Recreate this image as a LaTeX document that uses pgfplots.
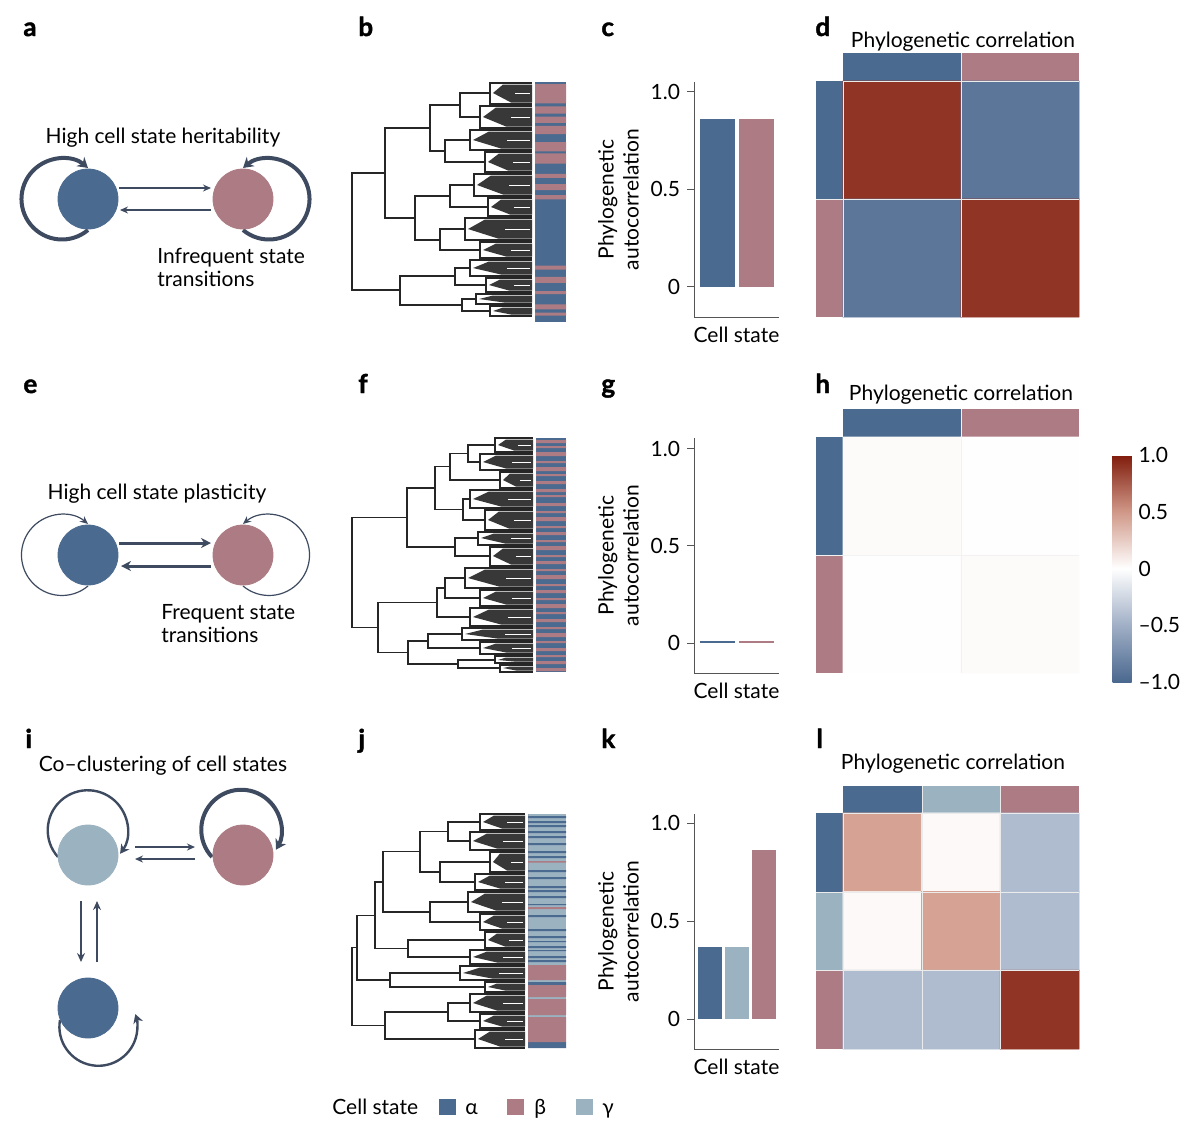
\documentclass[border=0pt]{standalone}
\usepackage{fontspec}
\setmainfont{Lato}
\newfontfamily\plfont{Lato}[FakeBold=1.6]
\usepackage{pgfplots}
\pgfplotsset{compat=1.18}
\usetikzlibrary{arrows.meta}

\definecolor{cA}{RGB}{75,106,143}
\definecolor{cB}{RGB}{172,123,132}
\definecolor{cG}{RGB}{155,178,192}
\definecolor{cArr}{RGB}{61,74,96}
\definecolor{axc}{RGB}{85,85,85}

\newcommand{\lab}{\fontsize{10.5}{12.5}\selectfont}
\newcommand{\pl}{\plfont\bfseries\fontsize{13}{13}\selectfont}

\pgfplotsset{
  colormap={rb}{rgb255(0cm)=(74,104,142) rgb255(1cm)=(160,175,198) rgb255(2cm)=(255,255,255) rgb255(3cm)=(208,152,136) rgb255(4cm)=(128,28,12)},
  barax/.style={scale only axis, width=42.5pt, height=117.5pt, xmin=0, xmax=85,
    axis x line=bottom, axis y line=left,
    axis line style={-, draw=axc, line width=0.5pt},
    xtick=\empty, ytick={0,0.5,1}, yticklabels={0,0.5,1.0},
    tick style={draw=axc, line width=0.5pt}, major tick length=3.5pt, tick align=outside,
    ticklabel style={font=\lab}, label style={font=\lab},
    xlabel={Cell state}, ylabel={Phylogenetic\\autocorrelation},
    ylabel style={align=center}, ylabel shift=-1pt, xlabel shift=-2pt, clip=false},
  strip/.style={scale only axis, xmin=0, xmax=1, y dir=reverse, hide axis, anchor=north west},
}

\begin{document}
\begin{tikzpicture}
\useasboundingbox (0pt,0pt) rectangle (600pt,-564.5pt);

% ---------- big canvas axis in pixel units ----------
\begin{axis}[at={(0pt,0pt)}, anchor=north west, scale only axis,
  width=600pt, height=564.5pt, xmin=0, xmax=1200, ymin=0, ymax=1129,
  y dir=reverse, hide axis, clip=false,
  colormap name=rb, point meta min=-1, point meta max=1]

% panel letters
\node[font=\pl, inner sep=0pt, anchor=base west] at (axis cs:23,36) {a};
\node[font=\pl, inner sep=0pt, anchor=base west] at (axis cs:358,36) {b};
\node[font=\pl, inner sep=0pt, anchor=base west] at (axis cs:601,36) {c};
\node[font=\pl, inner sep=0pt, anchor=base west] at (axis cs:815,36) {d};
\node[font=\pl, inner sep=0pt, anchor=base west] at (axis cs:23,393) {e};
\node[font=\pl, inner sep=0pt, anchor=base west] at (axis cs:358,393) {f};
\node[font=\pl, inner sep=0pt, anchor=base west] at (axis cs:601,393) {g};
\node[font=\pl, inner sep=0pt, anchor=base west] at (axis cs:815,393) {h};
\node[font=\pl, inner sep=0pt, anchor=base west] at (axis cs:25,748) {i};
\node[font=\pl, inner sep=0pt, anchor=base west] at (axis cs:358,748) {j};
\node[font=\pl, inner sep=0pt, anchor=base west] at (axis cs:601,748) {k};
\node[font=\pl, inner sep=0pt, anchor=base west] at (axis cs:816,748) {l};

% ---------- schematics a, e, i ----------
\addplot[only marks, mark=*, mark size=15pt, color=cA] coordinates {(88,199) (88,555) (88,1008)};
\addplot[only marks, mark=*, mark size=15pt, color=cB] coordinates {(243,199) (243,555) (243,855)};
\addplot[only marks, mark=*, mark size=15pt, color=cG] coordinates {(88,855)};

% a: strong self loops, weak transitions
\draw[cArr, line width=2pt, -{Stealth[length=5pt,width=6pt]}] (axis cs:88,230) arc[start angle=-50, end angle=-310, radius=20.25pt];
\draw[cArr, line width=2pt, -{Stealth[length=5pt,width=6pt]}] (axis cs:243,230) arc[start angle=-130, end angle=130, radius=20.25pt];
\addplot[cArr, line width=0.6pt, -{Stealth[length=4pt,width=3.5pt]}] coordinates {(119,188) (211,188)};
\addplot[cArr, line width=0.6pt, -{Stealth[length=4pt,width=3.5pt]}] coordinates {(211,210) (120,210)};
\node[font=\lab, inner sep=0pt, anchor=base] at (axis cs:163,143) {High cell state heritability};
\node[font=\lab, inner sep=0pt, anchor=base west] at (axis cs:157,263) {Infrequent state};
\node[font=\lab, inner sep=0pt, anchor=base west] at (axis cs:157,286) {transitions};

% e: weak self loops, strong transitions
\draw[cArr, line width=0.6pt, -{Stealth[length=4pt,width=3.5pt]}] (axis cs:88,586) arc[start angle=-50, end angle=-310, radius=20.25pt];
\draw[cArr, line width=0.6pt, -{Stealth[length=4pt,width=3.5pt]}] (axis cs:243,586) arc[start angle=-130, end angle=130, radius=20.25pt];
\addplot[cArr, line width=1.5pt, -{Stealth[length=5pt,width=5pt]}] coordinates {(119,543) (211,543)};
\addplot[cArr, line width=1.5pt, -{Stealth[length=5pt,width=5pt]}] coordinates {(211,566) (121,566)};
\node[font=\lab, inner sep=0pt, anchor=base] at (axis cs:157,499) {High cell state plasticity};
\node[font=\lab, inner sep=0pt, anchor=base west] at (axis cs:161,619) {Frequent state};
\node[font=\lab, inner sep=0pt, anchor=base west] at (axis cs:161,642) {transitions};

% i: three states
\draw[cArr, line width=1.2pt, -{Stealth[length=4.5pt,width=5pt]}] (axis cs:58,857) arc[start angle=222, end angle=-36, radius=20pt];
\draw[cArr, line width=2pt, -{Stealth[length=5pt,width=6pt]}] (axis cs:212,857) arc[start angle=223, end angle=-30, radius=20pt];
\draw[cArr, line width=1.2pt, -{Stealth[length=4.5pt,width=5pt]}] (axis cs:60,1020) arc[start angle=170, end angle=379, radius=19.5pt];
\addplot[cArr, line width=0.6pt, -{Stealth[length=4pt,width=3.5pt]}] coordinates {(135,847) (195,847)};
\addplot[cArr, line width=0.6pt, -{Stealth[length=4pt,width=3.5pt]}] coordinates {(195,859) (135,859)};
\addplot[cArr, line width=1.1pt, -{Stealth[length=4.5pt,width=4pt]}] coordinates {(81,901) (81,962)};
\addplot[cArr, line width=1.1pt, -{Stealth[length=4.5pt,width=4pt]}] coordinates {(97,962) (97,901)};
\node[font=\lab, inner sep=0pt, anchor=base] at (axis cs:163,771) {Co–clustering of cell states};

% ---------- dendrogram b ----------
\addplot[black!85, line width=0.65pt, unbounded coords=jump] table {
x y
490 93
460 93
460 117
480 117
nan nan
470 140
445 140
445 162
485 162
nan nan
460 105
430 105
430 151
445 151
nan nan
474 185
450 185
450 207
488 207
nan nan
465 229
440 229
440 250
480 250
nan nan
450 196
415 196
415 240
440 240
nan nan
430 128
385 128
385 218
415 218
nan nan
470 268
455 268
455 285
486 285
nan nan
476 299
462 299
462 311
490 311
nan nan
455 276
400 276
400 305
462 305
nan nan
385 173
352 173
352 290
400 290
nan nan
532 83
490 83
490 104
532 104
nan nan
532 106
480 106
480 128
532 128
nan nan
532 130
470 130
470 150
532 150
nan nan
532 152
485 152
485 172
532 172
nan nan
532 174
474 174
474 196
532 196
nan nan
532 198
488 198
488 216
532 216
nan nan
532 218
465 218
465 240
532 240
nan nan
532 242
480 242
480 258
532 258
nan nan
532 260
470 260
470 276
532 276
nan nan
532 278
486 278
486 292
532 292
nan nan
532 294
476 294
476 304
532 304
nan nan
532 306
490 306
490 316
532 316
};
\addplot[fill=black!78, draw=none, unbounded coords=jump] table {
x y
493 93
503 84.5
532 84.5
532 102.5
511 102.5
nan nan
483 117
496 107.5
532 107.5
532 126.5
506 126.5
nan nan
473 140
489 131.5
532 131.5
532 148.5
501 148.5
nan nan
488 162
499 153.5
532 153.5
532 170.5
508 170.5
nan nan
477 185
491 175.5
532 175.5
532 194.5
503 194.5
nan nan
491 207
501 199.5
532 199.5
532 214.5
510 214.5
nan nan
468 229
485 219.5
532 219.5
532 238.5
498 238.5
nan nan
483 250
496 243.5
532 243.5
532 256.5
506 256.5
nan nan
473 268
489 261.5
532 261.5
532 274.5
501 274.5
nan nan
489 285
500 279.5
532 279.5
532 290.5
509 290.5
nan nan
479 299
493 295.5
532 295.5
532 302.5
504 302.5
nan nan
493 311
503 307.5
532 307.5
532 314.5
511 314.5
};
\addplot[white, line width=0.5pt, unbounded coords=jump] table {
x y
515 93
530 93
nan nan
511 117
530 117
nan nan
507 140
530 140
nan nan
513 162
530 162
nan nan
509 185
530 185
nan nan
514 207
530 207
nan nan
505 229
530 229
nan nan
511 250
530 250
nan nan
507 268
530 268
nan nan
514 285
530 285
};

% ---------- dendrogram f ----------
\addplot[black!85, line width=0.65pt, unbounded coords=jump] table {
x y
495 445
468 445
468 462
480 462
nan nan
468 453.5
450 453.5
450 480
500 480
nan nan
470 499
463 499
463 520
485 520
nan nan
450 466.8
435 466.8
435 509.5
463 509.5
nan nan
478 538
455 538
455 556
490 556
nan nan
435 488.1
407 488.1
407 547
455 547
nan nan
465 578
445 578
445 598
480 598
nan nan
445 588
437 588
437 617
470 617
nan nan
462 634
428 634
428 648
480 648
nan nan
495 660
458 660
458 668
500 668
nan nan
428 641
408 641
408 664
458 664
nan nan
437 602.5
378 602.5
378 652.5
408 652.5
nan nan
407 517.6
352 517.6
352 627.5
378 627.5
nan nan
533 438
495 438
495 452
533 452
nan nan
533 454
480 454
480 470
533 470
nan nan
533 472
500 472
500 488
533 488
nan nan
533 490
470 490
470 508
533 508
nan nan
533 510
485 510
485 530
533 530
nan nan
533 532
478 532
478 545
533 545
nan nan
533 547
490 547
490 566
533 566
nan nan
533 568
465 568
465 588
533 588
nan nan
533 590
480 590
480 606
533 606
nan nan
533 608
470 608
470 626
533 626
nan nan
533 628
462 628
462 640
533 640
nan nan
533 642
480 642
480 654
533 654
nan nan
533 656
495 656
495 663
533 663
nan nan
533 665
500 665
500 672
533 672
};
\addplot[fill=black!78, draw=none, unbounded coords=jump] table {
x y
498 445
506 439.5
533 439.5
533 450.5
514 450.5
nan nan
483 462
496 455.5
533 455.5
533 468.5
506 468.5
nan nan
503 480
510 473.5
533 473.5
533 486.5
516 486.5
nan nan
473 499
489 491.5
533 491.5
533 506.5
501 506.5
nan nan
488 520
499 511.5
533 511.5
533 528.5
509 528.5
nan nan
481 538
494 533.5
533 533.5
533 543.5
505 543.5
nan nan
493 556
503 548.5
533 548.5
533 564.5
511 564.5
nan nan
468 578
485 569.5
533 569.5
533 586.5
499 586.5
nan nan
483 598
496 591.5
533 591.5
533 604.5
506 604.5
nan nan
473 617
489 609.5
533 609.5
533 624.5
501 624.5
nan nan
465 634
483 629.5
533 629.5
533 638.5
497 638.5
nan nan
483 648
496 643.5
533 643.5
533 652.5
506 652.5
nan nan
498 660
506 657.5
533 657.5
533 661.5
514 661.5
nan nan
503 668
510 666.5
533 666.5
533 670.5
516 670.5
};
\addplot[white, line width=0.5pt, unbounded coords=jump] table {
x y
518 445
531 445
nan nan
512 462
531 462
nan nan
520 480
531 480
nan nan
508 499
531 499
nan nan
514 520
531 520
nan nan
511 538
531 538
nan nan
516 556
531 556
nan nan
506 578
531 578
nan nan
512 598
531 598
nan nan
508 617
531 617
nan nan
505 634
531 634
nan nan
512 648
531 648
};

% ---------- dendrogram j ----------
\addplot[black!85, line width=0.65pt, unbounded coords=jump] table {
x y
480 822
448 822
448 841
470 841
nan nan
490 862
440 862
440 882
475 882
nan nan
448 831.5
420 831.5
420 872
440 872
nan nan
468 902
430 902
430 922
480 922
nan nan
420 851.8
383 851.8
383 912
430 912
nan nan
485 940
408 940
408 957
470 957
nan nan
383 881.9
375 881.9
375 948.5
408 948.5
nan nan
460 973
390 973
390 987
485 987
nan nan
375 915.2
357 915.2
357 980
390 980
nan nan
470 1003
448 1003
448 1021
480 1021
nan nan
448 1012
385 1012
385 1039
475 1039
nan nan
357 947.6
352 947.6
352 1025.5
385 1025.5
nan nan
525 814
480 814
480 830
525 830
nan nan
525 832
470 832
470 850
525 850
nan nan
525 852
490 852
490 872
525 872
nan nan
525 874
475 874
475 890
525 890
nan nan
525 892
468 892
468 912
525 912
nan nan
525 914
480 914
480 930
525 930
nan nan
525 932
485 932
485 948
525 948
nan nan
525 950
470 950
470 964
525 964
nan nan
525 966
460 966
460 980
525 980
nan nan
525 982
485 982
485 992
525 992
nan nan
525 994
470 994
470 1012
525 1012
nan nan
525 1014
480 1014
480 1028
525 1028
nan nan
525 1030
475 1030
475 1048
525 1048
};
\addplot[fill=black!78, draw=none, unbounded coords=jump] table {
x y
483 822
494 815.5
525 815.5
525 828.5
502 828.5
nan nan
473 841
487 833.5
525 833.5
525 848.5
497 848.5
nan nan
493 862
500 853.5
525 853.5
525 870.5
507 870.5
nan nan
478 882
490 875.5
525 875.5
525 888.5
500 888.5
nan nan
471 902
485 893.5
525 893.5
525 910.5
496 910.5
nan nan
483 922
494 915.5
525 915.5
525 928.5
502 928.5
nan nan
488 940
497 933.5
525 933.5
525 946.5
505 946.5
nan nan
473 957
487 951.5
525 951.5
525 962.5
497 962.5
nan nan
463 973
480 967.5
525 967.5
525 978.5
492 978.5
nan nan
488 987
497 983.5
525 983.5
525 990.5
505 990.5
nan nan
473 1003
487 995.5
525 995.5
525 1010.5
497 1010.5
nan nan
483 1021
494 1015.5
525 1015.5
525 1026.5
502 1026.5
nan nan
478 1039
490 1031.5
525 1031.5
525 1046.5
500 1046.5
};
\addplot[white, line width=0.5pt, unbounded coords=jump] table {
x y
507 822
523 822
nan nan
503 841
523 841
nan nan
511 862
523 862
nan nan
505 882
523 882
nan nan
502 902
523 902
nan nan
507 922
523 922
nan nan
509 940
523 940
nan nan
503 957
523 957
nan nan
499 973
523 973
nan nan
503 1003
523 1003
nan nan
507 1021
523 1021
nan nan
505 1039
523 1039
};

% ---------- heatmap d ----------
\node[font=\lab, inner sep=0pt, anchor=base] at (axis cs:963,47) {Phylogenetic correlation};
\addplot[fill=cA, draw=none] coordinates {(843,53) (961,53) (961,81) (843,81)};
\addplot[fill=cB, draw=none] coordinates {(961,53) (1079,53) (1079,81) (961,81)};
\addplot[fill=cA, draw=none] coordinates {(816,81) (843,81) (843,199) (816,199)};
\addplot[fill=cB, draw=none] coordinates {(816,199) (843,199) (843,317) (816,317)};
\addplot[matrix plot*, mesh/cols=2, point meta=explicit] coordinates {
(902,140) [0.9] (1020,140) [-0.9]
(902,258) [-0.9] (1020,258) [0.9]
};
\addplot[white!92!black, line width=0.5pt] coordinates {(961,53) (961,317)};
\addplot[white!92!black, line width=0.5pt] coordinates {(816,199) (1079,199)};
\addplot[white!92!black, line width=0.5pt] coordinates {(843,81) (1079,81)};
\addplot[white!92!black, line width=0.5pt] coordinates {(843,81) (843,317)};

% ---------- heatmap h ----------
\node[font=\lab, inner sep=0pt, anchor=base] at (axis cs:961,400) {Phylogenetic correlation};
\addplot[fill=cA, draw=none] coordinates {(843,409) (961,409) (961,437) (843,437)};
\addplot[fill=cB, draw=none] coordinates {(961,409) (1079,409) (1079,437) (961,437)};
\addplot[fill=cA, draw=none] coordinates {(816,437) (843,437) (843,555) (816,555)};
\addplot[fill=cB, draw=none] coordinates {(816,555) (843,555) (843,673) (816,673)};
\addplot[matrix plot*, mesh/cols=2, point meta=explicit] coordinates {
(902,496) [0.02] (1020,496) [0.005]
(902,614) [0.005] (1020,614) [0.02]
};
\addplot[white!95!black, line width=0.4pt] coordinates {(961,409) (961,673)};
\addplot[white!95!black, line width=0.4pt] coordinates {(816,555) (1079,555)};

% ---------- heatmap l ----------
\node[font=\lab, inner sep=0pt, anchor=base] at (axis cs:953,769) {Phylogenetic correlation};
\addplot[fill=cA, draw=none] coordinates {(843,786) (922,786) (922,813) (843,813)};
\addplot[fill=cG, draw=none] coordinates {(922,786) (1000,786) (1000,813) (922,813)};
\addplot[fill=cB, draw=none] coordinates {(1000,786) (1079,786) (1079,813) (1000,813)};
\addplot[fill=cA, draw=none] coordinates {(816,813) (843,813) (843,892) (816,892)};
\addplot[fill=cG, draw=none] coordinates {(816,892) (843,892) (843,970) (816,970)};
\addplot[fill=cB, draw=none] coordinates {(816,970) (843,970) (843,1049) (816,1049)};
\addplot[matrix plot*, mesh/cols=3, point meta=explicit] coordinates {
(882.3,852.3) [0.45] (961,852.3) [0.03] (1039.7,852.3) [-0.42]
(882.3,931) [0.03] (961,931) [0.45] (1039.7,931) [-0.42]
(882.3,1009.7) [-0.42] (961,1009.7) [-0.42] (1039.7,1009.7) [0.9]
};
\addplot[white!92!black, line width=0.5pt] coordinates {(922,786) (922,1049)};
\addplot[white!92!black, line width=0.5pt] coordinates {(1000,786) (1000,1049)};
\addplot[white!92!black, line width=0.5pt] coordinates {(816,892) (1079,892)};
\addplot[white!92!black, line width=0.5pt] coordinates {(816,970) (1079,970)};
\addplot[white!92!black, line width=0.5pt] coordinates {(843,813) (1079,813)};
\addplot[white!92!black, line width=0.5pt] coordinates {(843,813) (843,1049)};

% ---------- legend ----------
\node[font=\lab, inner sep=0pt, anchor=base west] at (axis cs:332,1114) {Cell state};
\addplot[fill=cA, draw=none] coordinates {(439,1099) (456,1099) (456,1115) (439,1115)};
\addplot[fill=cB, draw=none] coordinates {(507,1099) (524,1099) (524,1115) (507,1115)};
\addplot[fill=cG, draw=none] coordinates {(576,1099) (593,1099) (593,1115) (576,1115)};
\node[font=\lab, inner sep=0pt, anchor=base west] at (axis cs:465,1114) {α};
\node[font=\lab, inner sep=0pt, anchor=base west] at (axis cs:534,1114) {β};
\node[font=\lab, inner sep=0pt, anchor=base west] at (axis cs:602,1114) {γ};
\end{axis}

% ---------- leaf colour strips ----------
\begin{axis}[strip, at={(267.5pt,-41pt)}, width=15.5pt, height=117.5pt, ymin=82, ymax=317]
\addplot[fill=cA, draw=none] coordinates {(0,82) (1,82) (1,317) (0,317)};
\addplot[xbar interval, fill=cB, draw=none] table {
x y
0 82
1 84
0 103
1 106
0 113
1 116
0 122
1 125
0 133
1 141
0 150
1 152
0 162
1 172
0 176
1 182
0 188
1 193
0 197
1 262
0 266
1 273
0 279
1 287
0 290
1 300
0 305
1 308
0 311
0 317
};
\end{axis}

\begin{axis}[strip, at={(268pt,-219pt)}, width=15pt, height=117pt, ymin=438, ymax=672]
\addplot[fill=cA, draw=none] coordinates {(0,438) (1,438) (1,672) (0,672)};
\addplot[xbar interval, fill=cB, draw=none] table {
x y
0 438
1 440
0 443
1 446
0 448
1 452
0 456
1 461
0 463
1 467
0 471
1 474
0 476
1 481
0 484
1 489
0 492
1 495
0 497
1 503
0 506
1 511
0 513
1 517
0 521
1 526
0 528
1 532
0 535
1 540
0 542
1 546
0 550
1 555
0 557
1 561
0 564
1 569
0 571
1 575
0 579
1 584
0 586
1 590
0 593
1 598
0 600
1 604
0 608
1 612
0 614
1 619
0 622
1 627
0 629
1 633
0 637
1 641
0 643
1 648
0 651
1 655
0 657
1 661
0 664
1 668
0 671
0 672
};
\end{axis}

\begin{axis}[strip, at={(264pt,-407pt)}, width=19pt, height=117pt, ymin=814, ymax=1048]
\addplot[fill=cG, draw=none] coordinates {(0,814) (1,814) (1,1048) (0,1048)};
\addplot[xbar interval, fill=cA, draw=none] table {
x y
0 814
1 816
0 818
1 821
0 823
1 825
0 827
1 831
0 833
1 836
0 838
1 843
0 845
1 851
0 853
1 856
0 858
1 870
0 872
1 877
0 879
1 886
0 888
1 890
0 892
1 896
0 898
1 904
0 905
1 915
0 917
1 929
0 931
1 936
0 938
1 941
0 942
1 946
0 948
1 950
0 951
1 956
0 958
1 960
0 962
1 982
0 985
1 1042
0 1048
};
\addplot[xbar interval, fill=cB, draw=none] table {
x y
0 814
1 861
0 862.5
1 907
0 909
1 965
0 980
1 985
0 997
1 999
0 1015
1 1017
0 1042
0 1048
};
\end{axis}

% ---------- bar charts c, g, k ----------
\begin{axis}[barax, at={(347pt,-158.5pt)}, anchor=south west, ymin=-0.154, ymax=1.05]
\addplot[ybar, bar width=35, bar shift=0pt, fill=cA, draw=none] coordinates {(23.5,0.86)};
\addplot[ybar, bar width=35, bar shift=0pt, fill=cB, draw=none] coordinates {(62.5,0.86)};
\end{axis}

\begin{axis}[barax, at={(347pt,-336.5pt)}, anchor=south west, ymin=-0.154, ymax=1.056]
\addplot[ybar, bar width=35, bar shift=0pt, fill=cA, draw=none] coordinates {(23.5,0.012)};
\addplot[ybar, bar width=35, bar shift=0pt, fill=cB, draw=none] coordinates {(62.5,0.012)};
\end{axis}

\begin{axis}[barax, at={(347pt,-524.5pt)}, anchor=south west, ymin=-0.153, ymax=1.046]
\addplot[ybar, bar width=24, bar shift=0pt, fill=cA, draw=none] coordinates {(16,0.37)};
\addplot[ybar, bar width=24, bar shift=0pt, fill=cG, draw=none] coordinates {(43,0.365)};
\addplot[ybar, bar width=24, bar shift=0pt, fill=cB, draw=none] coordinates {(70,0.86)};
\end{axis}

% ---------- colour bar ----------
\begin{axis}[at={(543pt,-227.5pt)}, anchor=north west, scale only axis,
  width=9.5pt, height=113.5pt, hide axis,
  colormap name=rb, point meta min=-1, point meta max=1,
  colorbar, colorbar style={
    scale only axis, width=9.5pt, height=113.5pt,
    ytick={-1,-0.5,0,0.5,1}, yticklabels={–1.0,–0.5,0,0.5,1.0},
    axis line style={draw=none}, major tick length=0pt,
    yticklabel style={font=\lab}}]
\addplot[draw=none] coordinates {(0,0)};
\end{axis}
\end{tikzpicture}
\end{document}
